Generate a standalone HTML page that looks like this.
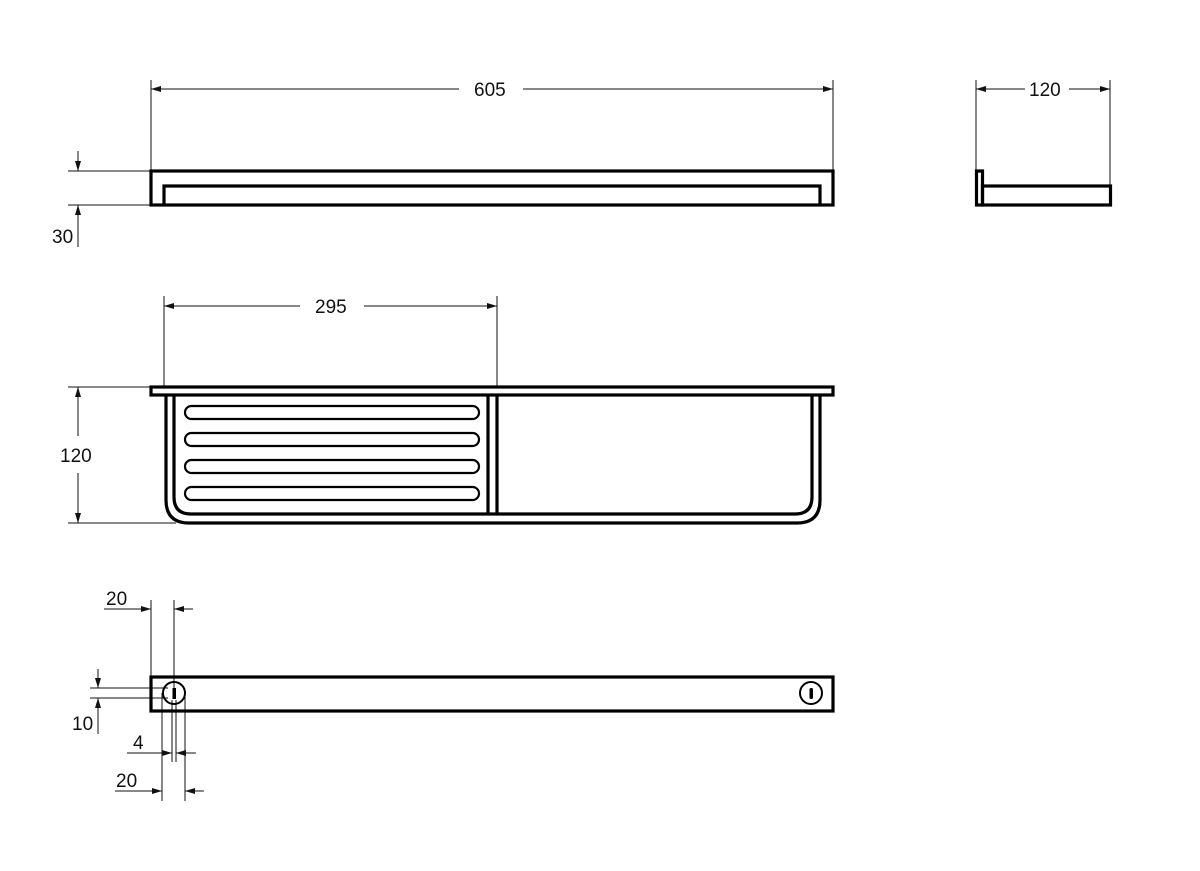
<!DOCTYPE html>
<html><head><meta charset="utf-8"><style>
html,body{margin:0;padding:0;background:#fff;}
svg{display:block;}
text{font-family:"Liberation Sans",sans-serif;font-size:19px;fill:#111;}
</style></head><body>
<svg width="1200" height="871" viewBox="0 0 1200 871" xmlns="http://www.w3.org/2000/svg">
<defs>
<marker id="a" viewBox="0 0 10 6" refX="10" refY="3" markerWidth="10" markerHeight="6" markerUnits="userSpaceOnUse" orient="auto-start-reverse"><path d="M0,0 L10,3 L0,6z" fill="#111"/></marker>
</defs>
<g stroke="#111" stroke-width="1" fill="none">
<line x1="151" y1="80" x2="151" y2="171"/><line x1="833" y1="80" x2="833" y2="171"/>
<line x1="151" y1="89" x2="459" y2="89" marker-start="url(#a)"/>
<line x1="523" y1="89" x2="833" y2="89" marker-end="url(#a)"/>
<line x1="68" y1="171" x2="151" y2="171"/><line x1="68" y1="205" x2="151" y2="205"/>
<line x1="78" y1="151" x2="78" y2="171" marker-end="url(#a)"/>
<line x1="78" y1="247" x2="78" y2="205" marker-end="url(#a)"/>
<line x1="976" y1="80" x2="976" y2="171"/><line x1="1110" y1="80" x2="1110" y2="186"/>
<line x1="976" y1="89" x2="1025" y2="89" marker-start="url(#a)"/>
<line x1="1069" y1="89" x2="1110" y2="89" marker-end="url(#a)"/>
<line x1="164" y1="296" x2="164" y2="387"/><line x1="497" y1="296" x2="497" y2="387"/>
<line x1="164" y1="306" x2="300" y2="306" marker-start="url(#a)"/>
<line x1="364" y1="306" x2="497" y2="306" marker-end="url(#a)"/>
<line x1="68" y1="387" x2="151" y2="387"/><line x1="68" y1="523" x2="176" y2="523"/>
<line x1="78" y1="387" x2="78" y2="436" marker-start="url(#a)"/>
<line x1="78" y1="473" x2="78" y2="523" marker-end="url(#a)"/>
<line x1="151" y1="600" x2="151" y2="677"/><line x1="174" y1="600" x2="174" y2="690"/>
<line x1="104" y1="609" x2="151" y2="609" marker-end="url(#a)"/>
<line x1="193" y1="609" x2="174" y2="609" marker-end="url(#a)"/>
<line x1="90" y1="688" x2="168" y2="688"/><line x1="90" y1="698" x2="168" y2="698"/>
<line x1="98" y1="669" x2="98" y2="688" marker-end="url(#a)"/>
<line x1="98" y1="734" x2="98" y2="698" marker-end="url(#a)"/>
<line x1="172" y1="700" x2="172" y2="762"/><line x1="176" y1="700" x2="176" y2="762"/>
<line x1="127" y1="753" x2="172" y2="753" marker-end="url(#a)"/>
<line x1="196" y1="753" x2="176" y2="753" marker-end="url(#a)"/>
<line x1="162" y1="693" x2="162" y2="801"/><line x1="185" y1="693" x2="185" y2="801"/>
<line x1="115" y1="791" x2="162" y2="791" marker-end="url(#a)"/>
<line x1="204" y1="791" x2="185" y2="791" marker-end="url(#a)"/>
</g>
<g stroke="#000" stroke-width="3.2" fill="none">
<rect x="151" y="171" width="682" height="34"/>
<path d="M164,205 V186 H820 V205"/>
<rect x="976.5" y="171" width="6" height="34"/>
<rect x="982.5" y="186" width="128" height="19"/>
<rect x="151" y="387" width="682" height="8"/>
<path d="M166,395 V500 Q166,523 189,523 H797 Q820,523 820,500 V395"/>
<path d="M174,395 V497 Q174,514 191,514 H795 Q812,514 812,497 V395"/>
<line x1="488" y1="395" x2="488" y2="514"/><line x1="497" y1="395" x2="497" y2="514"/>
<g stroke-width="2.2">
<rect x="185" y="406" width="294" height="13" rx="6.5"/>
<rect x="185" y="433" width="294" height="13" rx="6.5"/>
<rect x="185" y="460" width="294" height="13" rx="6.5"/>
<rect x="185" y="487" width="294" height="13" rx="6.5"/>
</g>
<rect x="151" y="677" width="682" height="34"/>
<circle cx="174" cy="693" r="11" stroke-width="2"/>
<circle cx="811" cy="693" r="11" stroke-width="2"/>
</g>
<rect x="172.5" y="688" width="3.5" height="11" fill="#000"/>
<rect x="809.5" y="688" width="3.5" height="11" rx="1.5" fill="#000"/>
<text x="474" y="96">605</text>
<text x="1029" y="96">120</text>
<text x="315" y="313">295</text>
<text x="52" y="243">30</text>
<text x="60" y="462">120</text>
<text x="106" y="605">20</text>
<text x="72" y="730">10</text>
<text x="133" y="749">4</text>
<text x="116" y="787">20</text>
</svg>
</body></html>
